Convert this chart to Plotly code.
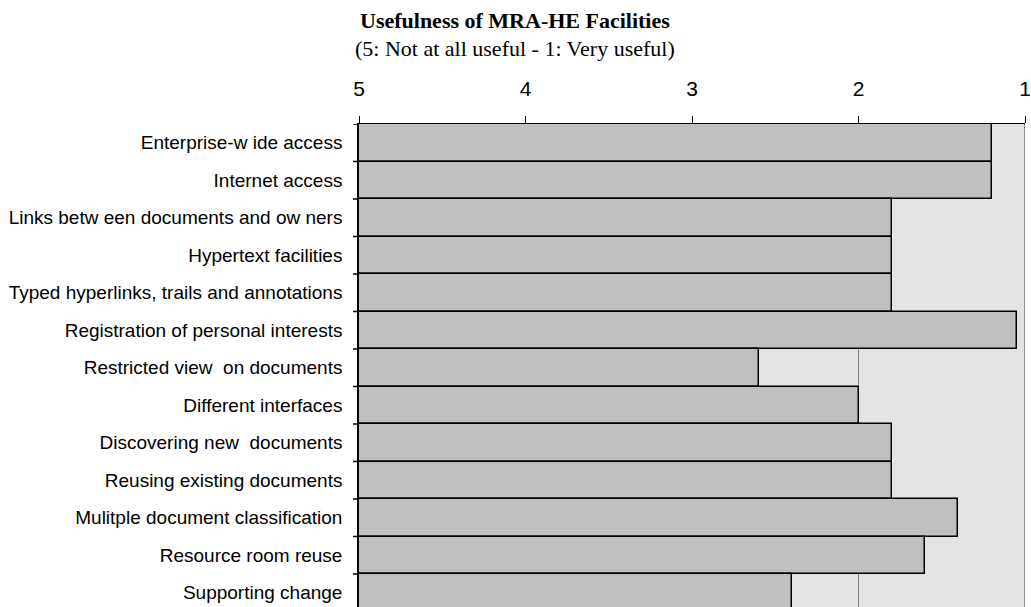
import plotly.graph_objects as go

# Facilities rated on a 5 (not at all useful) to 1 (very useful) scale
facilities = [
    "Enterprise-w ide access",
    "Internet access",
    "Links betw een documents and ow ners",
    "Hypertext facilities",
    "Typed hyperlinks, trails and annotations",
    "Registration of personal interests",
    "Restricted view  on documents",
    "Different interfaces",
    "Discovering new  documents",
    "Reusing existing documents",
    "Mulitple document classification",
    "Resource room reuse",
    "Supporting change",
]
mean_scores = [1.2, 1.2, 1.8, 1.8, 1.8, 1.05, 2.6, 2.0, 1.8, 1.8, 1.4, 1.6, 2.4]

scale_ticks = [5, 4, 3, 2, 1]
scale_origin = 5

positions = list(range(len(facilities)))

fig = go.Figure()
fig.add_trace(go.Bar(
    y=positions,
    x=[s - scale_origin for s in mean_scores],
    base=scale_origin,
    orientation="h",
    marker=dict(color="#c0c0c0", line=dict(color="#000000", width=1.5)),
    width=1.0,
    hoverinfo="skip",
))

title_x = (515.5 - 359) / (1031 - 359 - 4)

fig.update_layout(
    width=1031,
    height=607,
    margin=dict(l=359, r=4, t=124, b=0),
    paper_bgcolor="#ffffff",
    plot_bgcolor="#e3e3e3",
    showlegend=False,
    bargap=0,
    xaxis=dict(
        range=[5, 1],
        side="top",
        tickvals=scale_ticks,
        ticktext=[str(t) for t in scale_ticks],
        ticks="outside",
        ticklen=7,
        tickcolor="#000000",
        tickwidth=1,
        ticklabelstandoff=12,
        ticklabeloverflow="allow",
        tickfont=dict(family="Liberation Sans, Arial", size=21, color="#000000"),
        showgrid=True,
        gridcolor="#808080",
        gridwidth=1,
        showline=True,
        linecolor="#000000",
        linewidth=1,
        mirror=False,
        zeroline=False,
    ),
    yaxis=dict(
        range=[12.38, -0.5],
        tickvals=positions,
        ticktext=facilities,
        ticks="",
        showgrid=False,
        showline=True,
        linecolor="#000000",
        linewidth=1.5,
        ticklabelstandoff=11,
        tickfont=dict(family="Liberation Sans, Arial", size=19, color="#000000"),
        zeroline=False,
    ),
    shapes=[
        # right border of the plotting area at the "1" end of the scale
        dict(type="line", xref="x", yref="paper", x0=1, x1=1, y0=0, y1=1,
             line=dict(color="#8c8c8c", width=2)),
    ] + [
        # category separator ticks on the left axis
        dict(type="line", xref="paper", yref="y", x0=-0.009, x1=0,
             y0=p - 0.5, y1=p - 0.5, line=dict(color="#000000", width=1.5))
        for p in positions
    ],
    annotations=[
        dict(text="<b>Usefulness of MRA-HE Facilities</b>", xref="paper", yref="paper",
             x=title_x, y=1, yshift=104,
             xanchor="center", yanchor="middle", showarrow=False,
             font=dict(family="Liberation Serif, Times New Roman", size=22, color="#000000")),
        dict(text="(5: Not at all useful - 1: Very useful)", xref="paper", yref="paper",
             x=title_x, y=1, yshift=76,
             xanchor="center", yanchor="middle", showarrow=False,
             font=dict(family="Liberation Serif, Times New Roman", size=22, color="#000000")),
    ],
)

fig.write_html("out.html")
